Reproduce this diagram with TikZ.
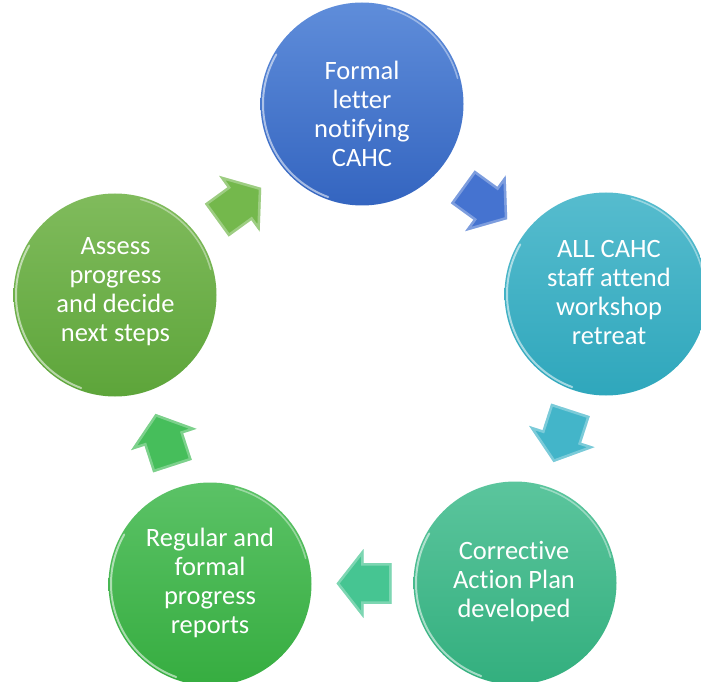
\documentclass[tikz,border=0pt]{standalone}
\usepackage{fontspec}
\setmainfont{Carlito}[Ligatures=NoCommon]
\begin{document}
\begin{tikzpicture}[x=1pt,y=1pt,
  stage/.style={circle, minimum size=203pt, inner sep=0pt, draw=none},
  stagetext/.style={text=white, align=center, inner sep=0pt,
    font=\fontsize{26.5pt}{29pt}\selectfont},
  rimlight/.style={white, line cap=round},
  pics/flowarrow/.style={code={
    \path[fill=#1] (-27.5,-20.3) -- (0.5,-20.3) -- (0.5,-34.5) -- (27.5,0)
      -- (0.5,34.5) -- (0.5,20.3) -- (-27.5,20.3) -- cycle;
    \begin{scope}
      \clip (-27.5,-20.3) -- (0.5,-20.3) -- (0.5,-34.5) -- (27.5,0)
        -- (0.5,34.5) -- (0.5,20.3) -- (-27.5,20.3) -- cycle;
      \draw[white, opacity=.3, line width=5pt, line join=miter]
        (-27.5,-20.3) -- (0.5,-20.3) -- (0.5,-34.5) -- (27.5,0)
        -- (0.5,34.5) -- (0.5,20.3) -- (-27.5,20.3) -- cycle;
    \end{scope}
  }}
]
\definecolor{c1top}{HTML}{5F8DDA}\definecolor{c1bot}{HTML}{3465C0}
\definecolor{c2top}{HTML}{56BCCE}\definecolor{c2bot}{HTML}{2FA7BC}
\definecolor{c3top}{HTML}{5BC59D}\definecolor{c3bot}{HTML}{33AF7E}
\definecolor{c4top}{HTML}{5BC266}\definecolor{c4bot}{HTML}{36AD40}
\definecolor{c5top}{HTML}{80BB5C}\definecolor{c5bot}{HTML}{5DA53A}
\definecolor{a1}{HTML}{4573D0}
\definecolor{a2}{HTML}{43B5C9}
\definecolor{a3}{HTML}{46C592}
\definecolor{a4}{HTML}{46BE5B}
\definecolor{a5}{HTML}{74B84C}

\useasboundingbox (0,0) rectangle (701,681);

% the five stages of the cycle
\node[stage, top color=c1top, bottom color=c1bot] (c1) at (362,577) {};
\node[stage, top color=c2top, bottom color=c2bot] (c2) at (606,387) {};
\node[stage, top color=c3top, bottom color=c3bot] (c3) at (515,98) {};
\node[stage, top color=c4top, bottom color=c4bot] (c4) at (210,97) {};
\node[stage, top color=c5top, bottom color=c5bot] (c5) at (115,386) {};

% glossy rim highlights
\foreach \c in {c1,c2,c3,c4,c5}{
  \draw[rimlight, opacity=.55, line width=2pt]
    ([shift={(150:99)}]\c.center) arc[start angle=150, end angle=250, radius=99];
  \draw[rimlight, opacity=.4, line width=1.6pt]
    ([shift={(15:99)}]\c.center) arc[start angle=15, end angle=75, radius=99];
}

% stage labels
\node[stagetext] (t1) at (362,567.5) {Formal\\letter\\notifying\\CAHC};
\node[stagetext] (t2) at (609,388.5) {ALL CAHC\\staff attend\\workshop\\retreat};
\node[stagetext] (t3) at (514,99) {Corrective\\Action Plan\\developed};
\node[stagetext] (t4) at (210,98.5) {Regular and\\formal\\progress\\reports};
\node[stagetext] (t5) at (115.5,389) {Assess\\progress\\and decide\\next steps};

% block arrows running clockwise between the stages
\pic (a1) [rotate=-36]  at (485,478)  {flowarrow=a1};
\pic (a2) [rotate=-108] at (562,245)  {flowarrow=a2};
\pic (a3) [rotate=180]  at (364,97.5) {flowarrow=a3};
\pic (a4) [rotate=108]  at (164,241)  {flowarrow=a4};
\pic (a5) [rotate=36]   at (239,477)  {flowarrow=a5};
\end{tikzpicture}
\end{document}
